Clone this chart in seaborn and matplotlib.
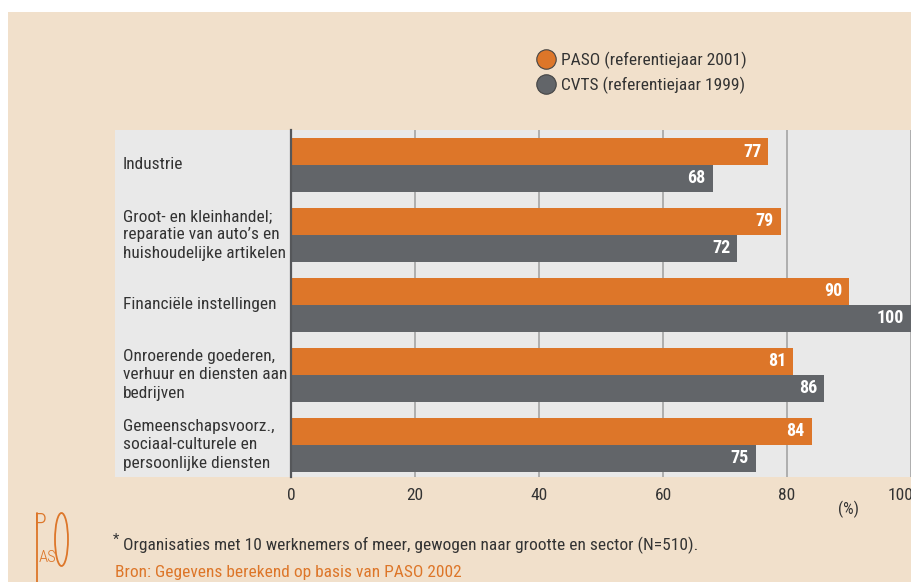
import pandas as pd
import matplotlib.pyplot as plt
import matplotlib.transforms as mtransforms
import seaborn as sns
from matplotlib import font_manager
from matplotlib.lines import Line2D
from matplotlib.patches import Rectangle, Ellipse

# data
sectoren = [
    'Industrie',
    'Groot- en kleinhandel;\nreparatie van auto’s en\nhuishoudelijke artikelen',
    'Financiële instellingen',
    'Onroerende goederen,\nverhuur en diensten aan\nbedrijven',
    'Gemeenschapsvoorz.,\nsociaal-culturele en\npersoonlijke diensten',
]
paso = [77, 79, 90, 81, 84]
cvts = [68, 72, 100, 86, 75]
reeksen = ['PASO (referentiejaar 2001)', 'CVTS (referentiejaar 1999)']
xticks = [0, 20, 40, 60, 80, 100]

ORANJE = '#DD7629'
GRIJS = '#626569'
CREME = '#F1E0CB'
PANEEL = '#E9E9E9'
TEKST = '#333333'

df = pd.DataFrame({
    'sector': sectoren * 2,
    'reeks': [reeksen[0]] * 5 + [reeksen[1]] * 5,
    'waarde': paso + cvts,
})

# smal lettertype kiezen als het er is
beschikbaar = {f.name for f in font_manager.fontManager.ttflist}
kandidaten = ['Liberation Sans Narrow', 'Roboto Condensed', 'Open Sans Condensed',
              'Noto Sans Condensed', 'Arial Narrow', 'Liberation Sans']
smal = [k for k in kandidaten if k in beschikbaar]
smal_font = smal[0] if smal else 'DejaVu Sans'
is_smal = smal_font != 'Liberation Sans' and smal_font != 'DejaVu Sans'
fs = 12.5 if is_smal else 10.6

sns.set_style('white')
plt.rcParams['font.family'] = [smal_font, 'DejaVu Sans']

fig = plt.figure(figsize=(9.12, 5.82), dpi=100)
fig.patch.set_facecolor('white')
W, H = 912, 582

# creme achtergrond en grijs paneel achter de labels
fig.patches.append(Rectangle((8 / W, 0), 1, 1 - 12 / H, transform=fig.transFigure,
                             facecolor=CREME, edgecolor='none', zorder=-2))
fig.patches.append(Rectangle((115 / W, (H - 477) / H), (291 - 115) / W, 347 / H,
                             transform=fig.transFigure, facecolor=PANEEL,
                             edgecolor='none', zorder=-1))

ax = fig.add_axes([291 / W, (H - 477) / H, 620 / W, 347 / H])
ax.set_facecolor(PANEEL)

sns.barplot(data=df, x='waarde', y='sector', hue='reeks', orient='h',
            palette=[ORANJE, GRIJS], width=0.77, saturation=1, ax=ax,
            legend=False, zorder=3, linewidth=0)

ax.set_xlim(0, 100)
ax.set_ylim(4.46, -0.5)
ax.set_xticks(xticks)
ax.set_xticklabels([str(t) for t in xticks], fontsize=fs, color=TEKST)
for x in xticks[1:]:
    ax.axvline(x, color='#A9A9A9', lw=1.3, zorder=1)
ax.tick_params(axis='x', length=5, width=1.3, color='#A9A9A9', pad=3)
ax.tick_params(axis='y', length=0, pad=0)
ax.set_yticklabels([])
ax.set_xlabel('')
ax.set_ylabel('')
for s in ['top', 'right', 'bottom']:
    ax.spines[s].set_visible(False)
ax.spines['left'].set_color('#55575A')
ax.spines['left'].set_linewidth(1.6)
ax.spines['left'].set_zorder(4)

# laatste ticklabel iets naar links, zoals in het origineel
laatste = ax.get_xticklabels()[-1]
laatste.set_transform(laatste.get_transform() +
                      mtransforms.ScaledTranslation(-10 / 100, 0, fig.dpi_scale_trans))

# waardes in de balken
for cont in ax.containers:
    labs = ax.bar_label(cont, fmt='%d', padding=-5, color='white',
                        fontsize=fs + 0.5, fontweight='bold')
    for lab in labs:
        lab.set_horizontalalignment('right')

# categorie-labels links in het grijze paneel
for i, s in enumerate(sectoren):
    ax.text(-27.1, i, s, fontsize=fs, color=TEKST, va='center', ha='left',
            linespacing=1.3)

ax.text(90, -0.068, '(%)', transform=ax.get_xaxis_transform(), fontsize=fs - 0.5,
        color=TEKST, ha='center', va='top')

# legenda
handles = [Line2D([], [], marker='o', ls='', markersize=14, markerfacecolor=c,
                  markeredgecolor='#444444', markeredgewidth=0.8)
           for c in [ORANJE, GRIJS]]
fig.legend(handles, reeksen, loc='upper left', bbox_to_anchor=(527 / W, 1 - 43 / H),
           frameon=False, fontsize=fs, handletextpad=0.25, labelspacing=0.45,
           borderpad=0, handlelength=1.2, labelcolor=TEKST)

# voetnoot en bron
fig.text(113 / W, 1 - 540 / H, '*', fontsize=fs - 2, color=TEKST, va='center')
fig.text(123 / W, 1 - 545 / H,
         'Organisaties met 10 werknemers of meer, gewogen naar grootte en sector (N=510).',
         fontsize=fs, color=TEKST, va='center')
fig.text(115 / W, 1 - 572 / H, 'Bron: Gegevens berekend op basis van PASO 2002',
         fontsize=fs, color=ORANJE, va='center')

# PASO logo
fig.text(34 / W, 1 - 523 / H, 'P', fontsize=17, color=ORANJE, va='center',
         fontweight='light')
fig.lines.append(Line2D([37 / W, 37 / W], [0, 1 - 513 / H], transform=fig.transFigure,
                        color=ORANJE, lw=1.3))
fig.text(39 / W, 1 - 557 / H, 'AS', fontsize=12, color=ORANJE, va='center',
         fontweight='light')
fig.patches.append(Ellipse((61.5 / W, 1 - 539.5 / H), 13 / W, 53 / H,
                           transform=fig.transFigure,
                           facecolor='none', edgecolor=ORANJE, lw=1.3))

fig.savefig('out.png', dpi=100, facecolor=fig.get_facecolor())
